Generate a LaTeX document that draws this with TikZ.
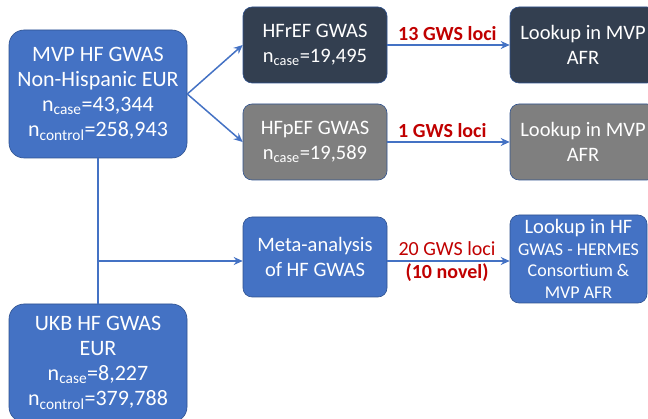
\documentclass[tikz,border=0pt]{standalone}
\usepackage{fontspec}
\setmainfont{Carlito}
\usetikzlibrary{arrows.meta}
\definecolor{boxblue}{HTML}{4472C4}
\definecolor{boxdark}{HTML}{333F50}
\definecolor{boxgray}{HTML}{7F7F7F}
\definecolor{edgeblue}{HTML}{2F528F}
\definecolor{locired}{HTML}{C00000}
\newcommand{\nsub}[1]{n\textsubscript{#1}}
\tikzset{
  gwasbox/.style={draw=edgeblue, line width=0.6pt, fill=boxblue, text=white,
    rounded corners=9pt, inner sep=0pt, align=center,
    font=\fontsize{20.5}{25}\selectfont},
  bigbox/.style={gwasbox, rounded corners=15pt, minimum width=178pt,
    font=\fontsize{22}{25}\selectfont},
  smallbox/.style={gwasbox, minimum width=144pt, minimum height=76pt},
  lociarrow/.style={draw=boxblue, line width=1.5pt,
    -{Stealth[length=9pt,width=8pt,inset=3pt]}},
  lociline/.style={draw=boxblue, line width=1.5pt},
  locilabel/.style={text=locired, inner sep=0pt, font=\fontsize{20}{24}\selectfont}
}
\begin{document}
\begin{tikzpicture}[x=1pt, y=-1pt]
  \useasboundingbox (0,0) rectangle (648,419);
  \node[bigbox, minimum height=128pt] (mvp) at (98,94)
    {MVP HF GWAS\\ Non-Hispanic EUR\\ \nsub{case}=43,344\\ \nsub{control}=258,943};
  \node[bigbox, minimum height=118pt] (ukb) at (98,363)
    {UKB HF GWAS\\ EUR\\ \nsub{case}=8,227\\ \nsub{control}=379,788};
  \node[smallbox, fill=boxdark] (hfref) at (315,45) {HFrEF GWAS\\ \nsub{case}=19,495};
  \node[smallbox, fill=boxgray] (hfpef) at (315,142) {HFpEF GWAS\\ \nsub{case}=19,589};
  \node[smallbox, minimum height=80pt] (meta) at (315,257) {Meta-analysis\\ of HF GWAS};
  \node[smallbox, fill=boxdark, minimum width=146pt] (lkref) at (583,45) {Lookup in MVP\\ AFR};
  \node[smallbox, fill=boxgray, minimum width=146pt] (lkpef) at (583,142) {Lookup in MVP\\ AFR};
  \node[smallbox, minimum width=137pt, minimum height=88pt,
    font=\fontsize{18}{21.5}\selectfont] (lkhf) at (578.5,259)
    {{\fontsize{20.5}{21.5}\selectfont Lookup in HF}\\ GWAS - HERMES\\ Consortium \&\\ MVP AFR};
  \coordinate (split) at (98,261);
  \draw[lociline] (mvp.south) -- (ukb.north);
  \draw[lociarrow] (mvp.east) -- (hfref.west);
  \draw[lociarrow] (mvp.east) -- (hfpef.west);
  \draw[lociarrow] (split) -- (split -| meta.west);
  \draw[lociarrow] (hfref.east) -- (lkref.west);
  \draw[lociarrow] (hfpef.east) -- (lkpef.west);
  \draw[lociarrow] (split -| meta.east) -- (split -| lkhf.west);
  \node[locilabel, anchor=base west, font=\fontsize{20}{24}\selectfont\bfseries] (ref) at (398,41) {13 GWS loci};
  \node[locilabel, anchor=base west, font=\fontsize{20}{24}\selectfont\bfseries] (pef) at (398,138) {1 GWS loci};
  \node[locilabel, anchor=base] (metaloci) at (447,256) {20 GWS loci};
  \node[locilabel, anchor=base, font=\fontsize{20}{24}\selectfont\bfseries] (novel) at (447,279) {(10 novel)};
\end{tikzpicture}
\end{document}
